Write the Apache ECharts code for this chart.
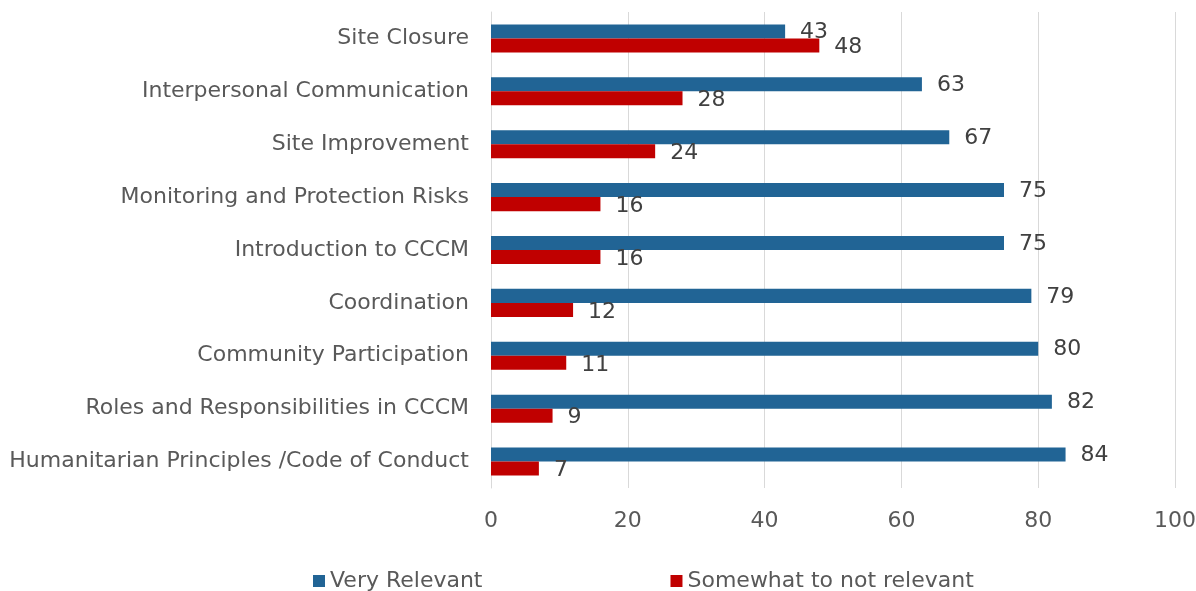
<!DOCTYPE html>
<html>
<head>
<meta charset="utf-8">
<script src="https://cdn.jsdelivr.net/npm/echarts@6/dist/echarts.min.js"></script>
<style>
  html, body { margin: 0; padding: 0; background: #fff; }
  #chart { width: 1196px; height: 591px; }
</style>
</head>
<body>
<div id="chart"></div>
<script>
// categories, top to bottom
var categories = [
  "Site Closure",
  "Interpersonal Communication",
  "Site Improvement",
  "Monitoring and Protection Risks",
  "Introduction to CCCM",
  "Coordination",
  "Community Participation",
  "Roles and Responsibilities in CCCM",
  "Humanitarian Principles /Code of Conduct"
];
var veryRelevant = [43, 63, 67, 75, 75, 79, 80, 82, 84];
var somewhatNot = [48, 28, 24, 16, 16, 12, 11, 9, 7];
var seriesNames = ["Very Relevant", "Somewhat to not relevant"];

var font = "'DejaVu Sans', sans-serif";

var chart = echarts.init(document.getElementById("chart"));
var option = {
  animation: false,
  textStyle: { fontFamily: font },
  grid: {
    left: 491,
    right: 21,
    top: 12,
    bottom: 103,
    outerBoundsMode: "none"
  },
  legend: {
    top: 565,
    left: 308,
    itemGap: 188,
    itemWidth: 12,
    itemHeight: 12,
    icon: "rect",
    textStyle: { fontFamily: font, fontSize: 22, color: "#595959" },
    data: seriesNames
  },
  xAxis: {
    type: "value",
    min: 0,
    max: 100,
    interval: 20,
    axisLine: { show: false },
    axisTick: { show: false },
    axisLabel: { fontSize: 22, color: "#595959", margin: 22 },
    splitLine: { lineStyle: { color: "#d9d9d9", width: 1 } }
  },
  yAxis: {
    type: "category",
    inverse: true,
    data: categories,
    axisLine: { lineStyle: { color: "#d9d9d9" } },
    axisTick: { show: false },
    axisLabel: { fontSize: 22, color: "#595959", margin: 22 }
  },
  series: [
    {
      name: seriesNames[0],
      type: "bar",
      data: veryRelevant,
      barGap: "0%",
      barCategoryGap: "47%",
      itemStyle: { color: "#216495" },
      label: {
        show: true,
        position: "right",
        distance: 15,
        offset: [0, 1],
        fontSize: 22,
        color: "#404040"
      }
    },
    {
      name: seriesNames[1],
      type: "bar",
      data: somewhatNot,
      itemStyle: { color: "#c00000" },
      label: {
        show: true,
        position: "right",
        distance: 15,
        offset: [0, 2],
        fontSize: 22,
        color: "#404040"
      }
    }
  ]
};
chart.setOption(option);
window.addEventListener("resize", function () {
  chart.resize();
});
</script>
</body>
</html>
